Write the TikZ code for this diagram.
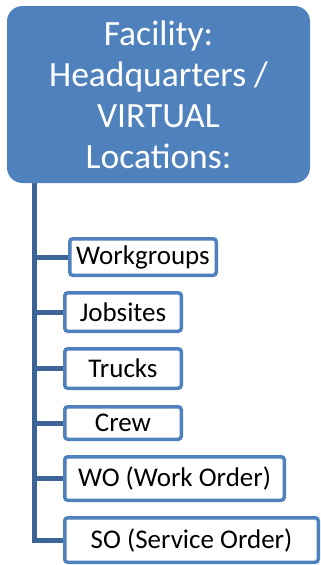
\documentclass[tikz,border=0pt]{standalone}
\usepackage{fontspec}
\setmainfont{Carlito}
\usetikzlibrary{backgrounds}
\definecolor{hqblue}{HTML}{4F81BD}
\definecolor{linkblue}{HTML}{3C6496}
\tikzset{
  hqbox/.style={fill=hqblue, draw=hqblue, line width=1pt, rounded corners=15pt, text=white,
    align=center, inner sep=0pt, font=\fontsize{35.5}{41}\selectfont},
  itembox/.style={draw=hqblue, fill=white, line width=3.5pt, rounded corners=3pt, inner sep=0pt,
    text=black, font=\fontsize{27}{31}\selectfont},
  link/.style={draw=linkblue, line width=5pt, line join=miter}
}
\begin{document}
\begin{tikzpicture}[x=1pt,y=-1pt]
\useasboundingbox (0,0) rectangle (321,565);
\node[hqbox, minimum width=302pt, minimum height=176pt] (hq) at (158.5,94.5)
  {Facility:\\Headquarters /\\VIRTUAL\\Locations:};
\node[itembox, minimum width=146.5pt, minimum height=36.5pt] (wg) at (143,257) {Workgroups};
\node[itembox, minimum width=116.5pt, minimum height=38.5pt] (js) at (123,312) {Jobsites};
\node[itembox, minimum width=116.5pt, minimum height=39.5pt] (tr) at (123,368.5) {Trucks};
\node[itembox, minimum width=116.5pt, minimum height=32.5pt] (cr) at (123,423) {Crew};
\node[itembox, minimum width=219.5pt, minimum height=43.5pt] (wo) at (174.5,478.5) {WO (Work Order)};
\node[itembox, minimum width=253.5pt, minimum height=44.5pt] (so) at (191.5,540) {SO (Service Order)};
\coordinate (spine) at (34.5,175);
\begin{scope}[on background layer]
\draw[link] (spine) |- (so.west);
\foreach \n in {wg,js,tr,cr,wo}{
  \draw[link] (spine |- \n.west) -- (\n.west);
}
\end{scope}
\end{tikzpicture}
\end{document}
